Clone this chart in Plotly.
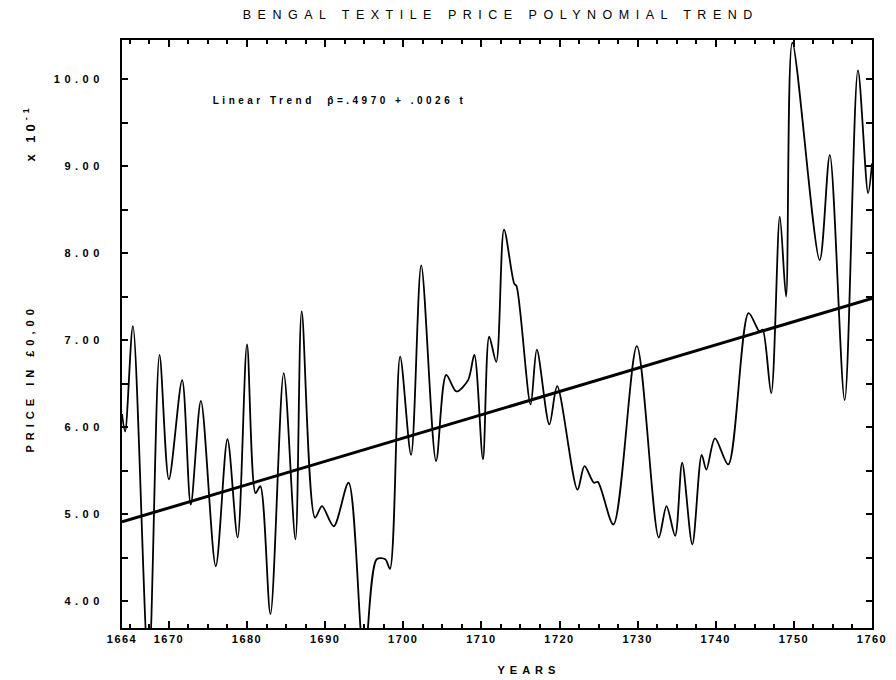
import plotly.graph_objects as go

# ---- data ----
years = [1664.0, 1664.4, 1665.4, 1667.4, 1668.8, 1670.0, 1671.7, 1672.8, 1674.1,
         1676.0, 1677.5, 1678.8, 1680.0, 1681.1, 1681.7, 1683.0, 1684.7, 1686.2,
         1687.0, 1688.7, 1689.6, 1691.1, 1693.0, 1695.0, 1696.6, 1697.7, 1698.3,
         1699.6, 1701.0, 1702.3, 1704.2, 1705.5, 1706.8, 1708.3, 1709.1, 1710.2,
         1711.0, 1711.9, 1712.9, 1714.2, 1714.5, 1716.3, 1717.1, 1718.7, 1719.7,
         1722.3, 1723.2, 1724.4, 1724.9, 1726.9, 1729.9, 1732.7, 1733.7, 1734.8,
         1735.7, 1737.0, 1738.2, 1738.8, 1739.9, 1741.6, 1744.2, 1745.6, 1746.0,
         1747.1, 1748.2, 1749.0, 1749.8, 1753.3, 1754.6, 1756.5, 1758.2, 1759.5,
         1760.0]
prices = [6.15, 5.95, 7.16, 3.20, 6.83, 5.40, 6.54, 5.11, 6.30,
          4.40, 5.86, 4.73, 6.95, 5.24, 5.32, 3.85, 6.62, 4.71,
          7.33, 4.96, 5.09, 4.86, 5.36, 3.30, 4.48, 4.48, 4.37,
          6.81, 5.68, 7.86, 5.61, 6.60, 6.41, 6.54, 6.83, 5.63,
          7.04, 6.75, 8.27, 7.65, 7.62, 6.26, 6.89, 6.03, 6.47,
          5.28, 5.55, 5.36, 5.37, 4.88, 6.93, 4.73, 5.09, 4.75,
          5.59, 4.65, 5.68, 5.51, 5.87, 5.57, 7.31, 7.10, 7.12,
          6.39, 8.42, 7.50, 10.42, 7.92, 9.13, 6.31, 10.10, 8.69,
          9.03]

trend_years = [1664, 1760]
trend_values = [4.91, 7.48]

x_tickvals = [1664, 1670, 1680, 1690, 1700, 1710, 1720, 1730, 1740, 1750, 1760]
x_ticktext = ["1664", "1670", "1680", "1690", "1700", "1710", "1720", "1730",
              "1740", "1750", "1760"]
y_tickvals = [4, 5, 6, 7, 8, 9, 10]
y_ticktext = ["4.00", "5.00", "6.00", "7.00", "8.00", "9.00", "10.00"]

FONT = "Liberation Sans, Arial, sans-serif"

fig = go.Figure()
fig.add_trace(go.Scatter(x=years, y=prices, mode="lines",
                         line=dict(color="black", width=1.8, shape="spline",
                                   smoothing=0.85),
                         showlegend=False, hoverinfo="skip"))
fig.add_trace(go.Scatter(x=trend_years, y=trend_values, mode="lines",
                         line=dict(color="black", width=3),
                         showlegend=False, hoverinfo="skip"))

fig.update_layout(
    width=896, height=680,
    margin=dict(l=122, r=20, t=40, b=52),
    paper_bgcolor="white", plot_bgcolor="white",
    font=dict(family=FONT, color="black", size=11),
    showlegend=False,
    xaxis=dict(range=[1664, 1760], tickmode="array", tickvals=x_tickvals,
               ticktext=x_ticktext, ticks="inside", ticklen=7, tickwidth=1.5,
               tickcolor="black", showline=True, linewidth=2, linecolor="black",
               mirror="ticks", showgrid=False, zeroline=False,
               tickfont=dict(family=FONT, size=11, color="black", weight="bold"),
               minor=dict(ticks="inside", tickmode="linear", tick0=1660,
                          dtick=2.5, ticklen=4, tickcolor="black", showgrid=False)),
    yaxis=dict(range=[3.69, 10.45], tickmode="array", tickvals=y_tickvals,
               ticktext=y_ticktext, ticks="inside", ticklen=6, tickwidth=1.5,
               tickcolor="black", showline=True, linewidth=2, linecolor="black",
               mirror="allticks", showgrid=False, zeroline=False,
               ticklabelstandoff=14,
               tickfont=dict(family=FONT, size=11, color="black", weight="bold"),
               minor=dict(ticks="inside", tickmode="linear", tick0=4, dtick=0.5,
                          ticklen=6, tickcolor="black", showgrid=False)),
)

def px_x(p):
    return (p - 122) / 754.0

def px_y(p):
    return (628 - p) / 588.0

annots = [
    dict(text="BENGAL TEXTILE PRICE POLYNOMIAL TREND", x=px_x(503), y=px_y(15),
         font=dict(size=12.5)),
    dict(text="Linear Trend  p\u0302=.4970 + .0026 t", x=px_x(341), y=px_y(100),
         font=dict(size=10, weight="bold")),
    dict(text="YEARS", x=px_x(531), y=px_y(670), font=dict(size=11, weight="bold")),
    dict(text="PRICE IN \u00a30,00", x=px_x(30), y=px_y(378), textangle=-90,
         font=dict(size=11, weight="bold")),
    dict(text="x 10<sup>-1</sup>", x=px_x(29), y=px_y(133), textangle=-90,
         font=dict(size=13, weight="bold")),
]
for a in annots:
    fig.add_annotation(xref="paper", yref="paper", showarrow=False,
                       xanchor="center", yanchor="middle", **a)

post = """
var gd = document.getElementById('{plot_id}');
var sp = ['6.5px', '3.5px', '5px', '5px', '4px'];
gd.querySelectorAll('g.annotation').forEach(function(g, i){
  g.querySelectorAll('text').forEach(function(t){ t.style.letterSpacing = sp[i] || '3px'; });
});
gd.querySelectorAll('g.ytick text').forEach(function(t){ t.style.letterSpacing = '4.5px'; });
gd.querySelectorAll('g.xtick text').forEach(function(t){ t.style.letterSpacing = '1.5px'; });
"""

fig.write_html("out.html", post_script=post)
